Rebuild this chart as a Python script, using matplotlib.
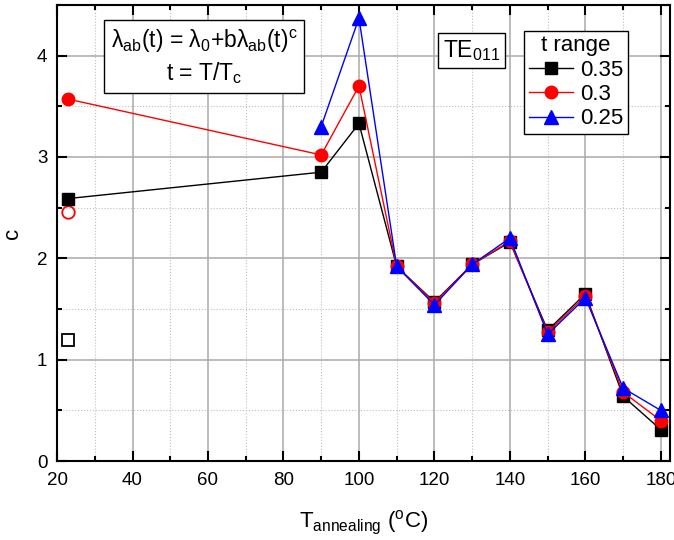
import matplotlib.pyplot as plt
from matplotlib.ticker import MultipleLocator

plt.rcParams['font.family'] = ['Liberation Sans', 'DejaVu Sans']
plt.rcParams['mathtext.fontset'] = 'custom'
plt.rcParams['mathtext.rm'] = 'Liberation Sans'
plt.rcParams['mathtext.it'] = 'Liberation Sans'
plt.rcParams['mathtext.bf'] = 'Liberation Sans'
plt.rcParams['mathtext.default'] = 'regular'

# Annealing temperatures and fitted exponent c for each t range
temp_35 = [23, 90, 100, 110, 120, 130, 140, 150, 160, 170, 180]
c_35 = [2.59, 2.85, 3.33, 1.92, 1.57, 1.94, 2.16, 1.29, 1.65, 0.64, 0.31]
temp_30 = [23, 90, 100, 110, 120, 130, 140, 150, 160, 170, 180]
c_30 = [3.57, 3.02, 3.70, 1.92, 1.56, 1.94, 2.17, 1.27, 1.63, 0.68, 0.40]
temp_25 = [90, 100, 110, 120, 130, 140, 150, 160, 170, 180]
c_25 = [3.30, 4.37, 1.92, 1.54, 1.94, 2.20, 1.25, 1.61, 0.72, 0.50]

# open symbols at room temperature
open_temp = [23]
open_35 = [1.19]
open_30 = [2.46]

fig = plt.figure(figsize=(6.74, 5.4), dpi=100)
ax = fig.add_axes([0.0846, 0.146, 0.9094, 0.845])

ax.plot(temp_35, c_35, color='black', lw=1, marker='s', ms=8, label='0.35', zorder=4)
ax.plot(temp_30, c_30, color='red', lw=1, marker='o', ms=9, label='0.3', zorder=4)
ax.plot(temp_25, c_25, color='blue', lw=1, marker='^', ms=10, label='0.25', zorder=4)
ax.plot(open_temp, open_35, ls='none', marker='s', ms=8, mfc='none', mec='black', mew=1.3)
ax.plot(open_temp, open_30, ls='none', marker='o', ms=9, mfc='none', mec='red', mew=1.3)

ax.set_xlim(20, 182.4)
ax.set_ylim(0, 4.5)
ax.xaxis.set_major_locator(MultipleLocator(20))
ax.xaxis.set_minor_locator(MultipleLocator(10))
ax.yaxis.set_major_locator(MultipleLocator(1))
ax.yaxis.set_minor_locator(MultipleLocator(0.5))
ax.grid(which='major', color='#aaaaaa', lw=1.1)
ax.grid(which='minor', color='#c0c0c0', lw=0.8, ls=':')
ax.set_axisbelow(True)
ax.tick_params(which='both', direction='in', top=True, right=True, labelsize=13.5, width=1.5)
ax.tick_params(which='major', length=7)
ax.tick_params(which='minor', length=3.5)
ax.tick_params(axis='x', which='both', pad=8)
ax.tick_params(axis='y', which='both', pad=7)
for s in ax.spines.values():
    s.set_linewidth(1.5)

ax.set_xlabel(r'T$_{annealing}$ ($^{o}$C)', fontsize=16, labelpad=14)
ax.set_ylabel('c', fontsize=16, labelpad=10)

ax.text(0.24, 0.885,
        'λ$_{ab}$(t) = λ$_0$+bλ$_{ab}$(t)$^c$\nt = T/T$_c$',
        transform=ax.transAxes, ha='center', va='center', fontsize=16.5, linespacing=1.25,
        bbox=dict(boxstyle='square,pad=0.3', fc='white', ec='black', lw=1))
ax.text(0.676, 0.899, 'TE$_{011}$', transform=ax.transAxes, ha='center', va='center',
        fontsize=16.5, bbox=dict(boxstyle='square,pad=0.22', fc='white', ec='black', lw=1))

leg = ax.legend(title='t range', loc='upper right', bbox_to_anchor=(0.931, 0.943),
                fontsize=16, title_fontsize=16, fancybox=False, framealpha=1,
                edgecolor='black', handlelength=2.0, borderpad=0.2, labelspacing=0.15,
                handletextpad=0.3, borderaxespad=0.0)
leg.get_frame().set_linewidth(1)

fig.savefig('out.png', dpi=100)
